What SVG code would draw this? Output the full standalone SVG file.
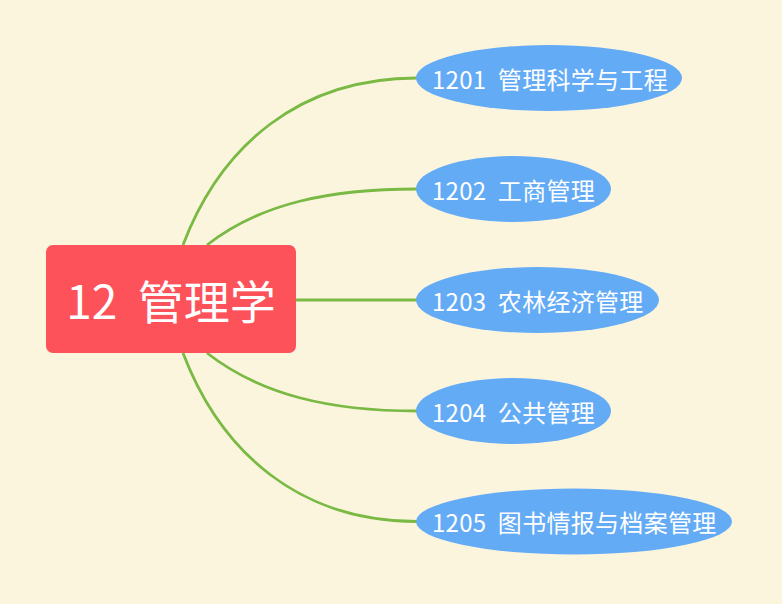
<svg xmlns="http://www.w3.org/2000/svg" width="782" height="604" viewBox="0 0 782 604">
<style>
.bg{fill:#fbf5de}
.link{fill:none;stroke:#7ab944;stroke-width:2.8}
.root{fill:#fe525a}
.sub{fill:#64abf6}
.rt{font-family:"Noto Sans CJK SC","Noto Sans",sans-serif;font-size:46px;fill:#ffffff;text-anchor:middle}
.st{font-family:"Noto Sans CJK SC","Noto Sans",sans-serif;font-size:24px;fill:#ffffff;letter-spacing:0.3px}
</style>
<rect class="bg" x="0" y="0" width="782" height="604"/>
<g id="connectors">
<path class="link" d="M183,245 C221,145 300,78 417,78"/>
<path class="link" d="M207,245 C261,203 330,189 417,189"/>
<path class="link" d="M296,300 L417,300"/>
<path class="link" d="M207,353 C261,395 330,411 417,411"/>
<path class="link" d="M183,353 C221,453 300,521.5 417,521.5"/>
</g>
<g id="root">
<rect class="root" x="46" y="245" width="250" height="108" rx="7"/>
<text class="rt" x="171" y="319" xml:space="preserve">12  管理学</text>
</g>
<g id="n1201">
<ellipse class="sub" cx="549" cy="78" rx="133" ry="33"/>
<text class="st" x="432" y="88.5" xml:space="preserve">1201  管理科学与工程</text>
</g>
<g id="n1202">
<ellipse class="sub" cx="513.5" cy="189" rx="97.5" ry="33"/>
<text class="st" x="432" y="199.5" xml:space="preserve">1202  工商管理</text>
</g>
<g id="n1203">
<ellipse class="sub" cx="537.5" cy="300" rx="121.5" ry="33"/>
<text class="st" x="432" y="310.5" xml:space="preserve">1203  农林经济管理</text>
</g>
<g id="n1204">
<ellipse class="sub" cx="513.5" cy="411" rx="97.5" ry="33"/>
<text class="st" x="432" y="421.5" xml:space="preserve">1204  公共管理</text>
</g>
<g id="n1205">
<ellipse class="sub" cx="574" cy="521.5" rx="158" ry="33"/>
<text class="st" x="432" y="532" xml:space="preserve">1205  图书情报与档案管理</text>
</g>
</svg>
